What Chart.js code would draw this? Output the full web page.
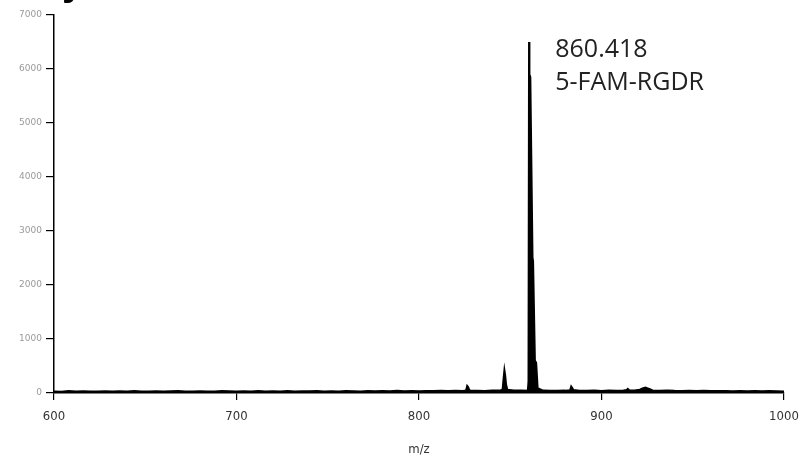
<!DOCTYPE html>
<html>
<head>
<meta charset="utf-8">
<script src="https://cdn.jsdelivr.net/npm/chart.js@4"></script>
<style>
html,body{margin:0;padding:0;background:#fff;}
#wrap{width:805px;height:460px;position:relative;}
</style>
</head>
<body>
<div id="wrap"><canvas id="c" width="805" height="460"></canvas></div>
<script>
// m/z values
const mz = [
 600,604,608,612,616,620,624,628,632,636,640,644,648,652,656,660,664,668,672,676,
 680,684,688,692,696,700,704,708,712,716,720,724,728,732,736,740,744,748,752,756,
 760,764,768,772,776,780,784,788,792,796,800,804,808,812,816,820,824,
 825.8,826.4,826.9,827.5,828.2,832,836,840,844,
 845.8,846.3,846.8,847.2,847.7,848.4,852,856,859.6,
 860.0,860.3,860.5,861.0,861.3,862.2,862.5,863.5,864.2,865,868,872,876,880,
 882.8,883.4,883.9,884.6,888,892,896,900,904,908,912,
 913.8,914.4,915.2,918,921,922.5,924,925,926.5,928,932,936,940,944,948,952,956,960,
 964,968,972,976,980,984,988,992,996,1000
];
// intensities
const intensity = [
 30,25,35,28,32,26,30,34,27,31,29,35,30,26,33,28,31,36,29,27,
 33,30,28,35,31,29,34,30,36,28,32,30,35,29,33,31,37,30,34,28,
 36,32,30,38,33,35,31,40,34,37,33,39,35,42,36,40,38,
 45,130,110,60,40,42,38,45,44,
 60,250,420,330,160,60,48,45,40,
 200,6500,5900,5850,5850,2500,2450,600,560,90,45,42,40,44,
 50,120,95,55,42,40,45,38,44,40,48,
 55,75,50,46,60,85,100,90,70,48,42,45,40,38,42,36,40,38,
 35,38,33,36,34,37,32,35,33,30
];
const xTicks = [600,700,800,900,1000];
const yTicks = [0,1000,2000,3000,4000,5000,6000,7000];
const peakLabel = ["860.418","5-FAM-RGDR"];
const peakMz = 860.418;

const points = mz.map((m,i)=>({x:m,y:intensity[i]}));

const annot = {
  id:'annot',
  afterDraw(chart){
    const ctx = chart.ctx;
    const xs = chart.scales.x;
    const px = xs.getPixelForValue(peakMz);
    ctx.save();
    ctx.fillStyle = '#222';
    ctx.font = '25px "Open Sans", sans-serif';
    ctx.textBaseline = 'middle';
    ctx.textAlign = 'left';
    ctx.fillText(peakLabel[0], px + 26, 50);
    ctx.fillText(peakLabel[1], px + 26, 83);
    // cropped letter fragment at top-left
    ctx.fillStyle = '#000';
    ctx.font = 'bold 40px "Liberation Sans", sans-serif';
    ctx.textBaseline = 'alphabetic';
    ctx.fillText('y', 62, -5);
    ctx.restore();
  }
};

const fontX = {family:'"DejaVu Sans Condensed","DejaVu Sans",sans-serif',size:13};

new Chart(document.getElementById('c'), {
  type:'line',
  data:{datasets:[{
    data:points,
    borderColor:'#000',
    backgroundColor:'#000',
    borderWidth:2,
    fill:'origin',
    pointRadius:0,
    tension:0
  }]},
  options:{
    responsive:false,
    animation:false,
    devicePixelRatio:1,
    layout:{padding:{top:15,right:21,left:0,bottom:0}},
    plugins:{legend:{display:false},tooltip:{enabled:false}},
    scales:{
      x:{
        type:'linear',min:600,max:1000,
        afterBuildTicks(s){s.ticks = xTicks.map(v=>({value:v}));},
        afterFit(s){s.height = 67; s.paddingLeft = 0; s.paddingRight = 0;},
        grid:{drawOnChartArea:false,drawTicks:true,tickLength:7,color:'#000',lineWidth:1.2},
        border:{display:true,color:'#000',width:1.5},
        ticks:{color:'#333',padding:9,maxRotation:0,font:fontX,callback:v=>String(v)},
        title:{display:true,text:'m/z',color:'#333',padding:{top:0,bottom:3},font:fontX}
      },
      y:{
        type:'linear',min:0,max:7000,
        afterBuildTicks(s){s.ticks = yTicks.map(v=>({value:v}));},
        afterFit(s){s.width = 54; s.paddingTop = 0; s.paddingBottom = 0;},
        grid:{drawOnChartArea:false,drawTicks:true,tickLength:8,color:'#000',lineWidth:1.2},
        border:{display:true,color:'#000',width:1.5},
        ticks:{color:'#999',padding:4,font:{family:'"DejaVu Sans",sans-serif',size:9},callback:v=>String(v)}
      }
    }
  },
  plugins:[annot]
});
</script>
</body>
</html>
